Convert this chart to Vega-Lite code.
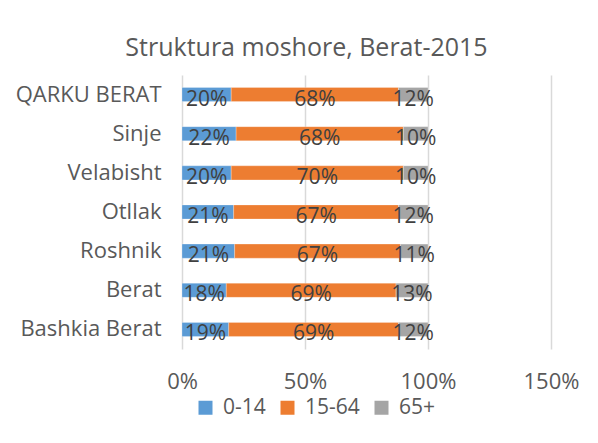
{
  "$schema": "https://vega.github.io/schema/vega-lite/v6.json",
  "width": 369,
  "height": 274,
  "autosize": {"type": "none"},
  "padding": {"left": 182, "top": 75, "right": 47, "bottom": 94},
  "background": "white",
  "title": {
    "text": "Struktura moshore, Berat-2015",
    "font": "Open Sans",
    "fontSize": 25,
    "fontWeight": "normal",
    "color": "#595959",
    "anchor": "middle",
    "dx": -60,
    "offset": 14
  },
  "config": {
    "view": {"stroke": null},
    "font": "Open Sans"
  },
  "data": {
    "values": [
      {"area": "QARKU BERAT", "group": "0-14", "share": 0.20},
      {"area": "QARKU BERAT", "group": "15-64", "share": 0.68},
      {"area": "QARKU BERAT", "group": "65+", "share": 0.12},
      {"area": "Sinje", "group": "0-14", "share": 0.22},
      {"area": "Sinje", "group": "15-64", "share": 0.68},
      {"area": "Sinje", "group": "65+", "share": 0.10},
      {"area": "Velabisht", "group": "0-14", "share": 0.20},
      {"area": "Velabisht", "group": "15-64", "share": 0.70},
      {"area": "Velabisht", "group": "65+", "share": 0.10},
      {"area": "Otllak", "group": "0-14", "share": 0.21},
      {"area": "Otllak", "group": "15-64", "share": 0.67},
      {"area": "Otllak", "group": "65+", "share": 0.12},
      {"area": "Roshnik", "group": "0-14", "share": 0.214},
      {"area": "Roshnik", "group": "15-64", "share": 0.674},
      {"area": "Roshnik", "group": "65+", "share": 0.112},
      {"area": "Berat", "group": "0-14", "share": 0.18},
      {"area": "Berat", "group": "15-64", "share": 0.69},
      {"area": "Berat", "group": "65+", "share": 0.13},
      {"area": "Bashkia Berat", "group": "0-14", "share": 0.19},
      {"area": "Bashkia Berat", "group": "15-64", "share": 0.69},
      {"area": "Bashkia Berat", "group": "65+", "share": 0.12}
    ]
  },
  "transform": [
    {"stack": "share", "groupby": ["area"], "sort": [{"field": "group", "order": "ascending"}], "as": ["x0", "x1"]},
    {"calculate": "(datum.x0 + datum.x1) / 2", "as": "xmid"}
  ],
  "encoding": {
    "y": {
      "field": "area",
      "type": "nominal",
      "sort": ["QARKU BERAT", "Sinje", "Velabisht", "Otllak", "Roshnik", "Berat", "Bashkia Berat"],
      "scale": {"paddingInner": 0.64, "paddingOuter": 0.32},
      "axis": {
        "title": null,
        "domain": false,
        "ticks": false,
        "labelFontSize": 22,
        "labelColor": "#595959",
        "labelPadding": 21,
        "labelFont": "Open Sans"
      }
    }
  },
  "layer": [
    {
      "mark": {"type": "bar", "stroke": "white", "strokeWidth": 0.5, "strokeOpacity": 0.5},
      "encoding": {
        "x": {
          "field": "x0",
          "type": "quantitative",
          "scale": {"domain": [0, 1.5], "nice": false},
          "axis": {
            "title": null,
            "values": [0, 0.5, 1, 1.5],
            "format": "0%",
            "domain": false,
            "ticks": false,
            "grid": true,
            "gridColor": "#D9D9D9",
            "gridWidth": 1.5,
            "labelFlush": false,
            "labelFontSize": 22,
            "labelColor": "#595959",
            "labelPadding": 22,
            "labelFont": "Open Sans"
          }
        },
        "x2": {"field": "x1"},
        "color": {
          "field": "group",
          "type": "nominal",
          "scale": {"domain": ["0-14", "15-64", "65+"], "range": ["#5B9BD5", "#ED7D31", "#A5A5A5"]},
          "legend": {
            "title": null,
            "orient": "none",
            "direction": "horizontal",
            "legendX": 13,
            "legendY": 322,
            "symbolType": "square",
            "symbolSize": 196,
            "symbolStrokeWidth": 0,
            "labelFontSize": 21,
            "labelColor": "#595959",
            "labelFont": "Open Sans",
            "labelOffset": 7,
            "columnPadding": 11
          }
        }
      }
    },
    {
      "mark": {"type": "text", "fontSize": 21, "color": "#404040", "baseline": "middle", "align": "center", "dy": 5, "font": "Open Sans"},
      "encoding": {
        "x": {"field": "xmid", "type": "quantitative"},
        "text": {"field": "share", "type": "quantitative", "format": ".0%"}
      }
    }
  ]
}
